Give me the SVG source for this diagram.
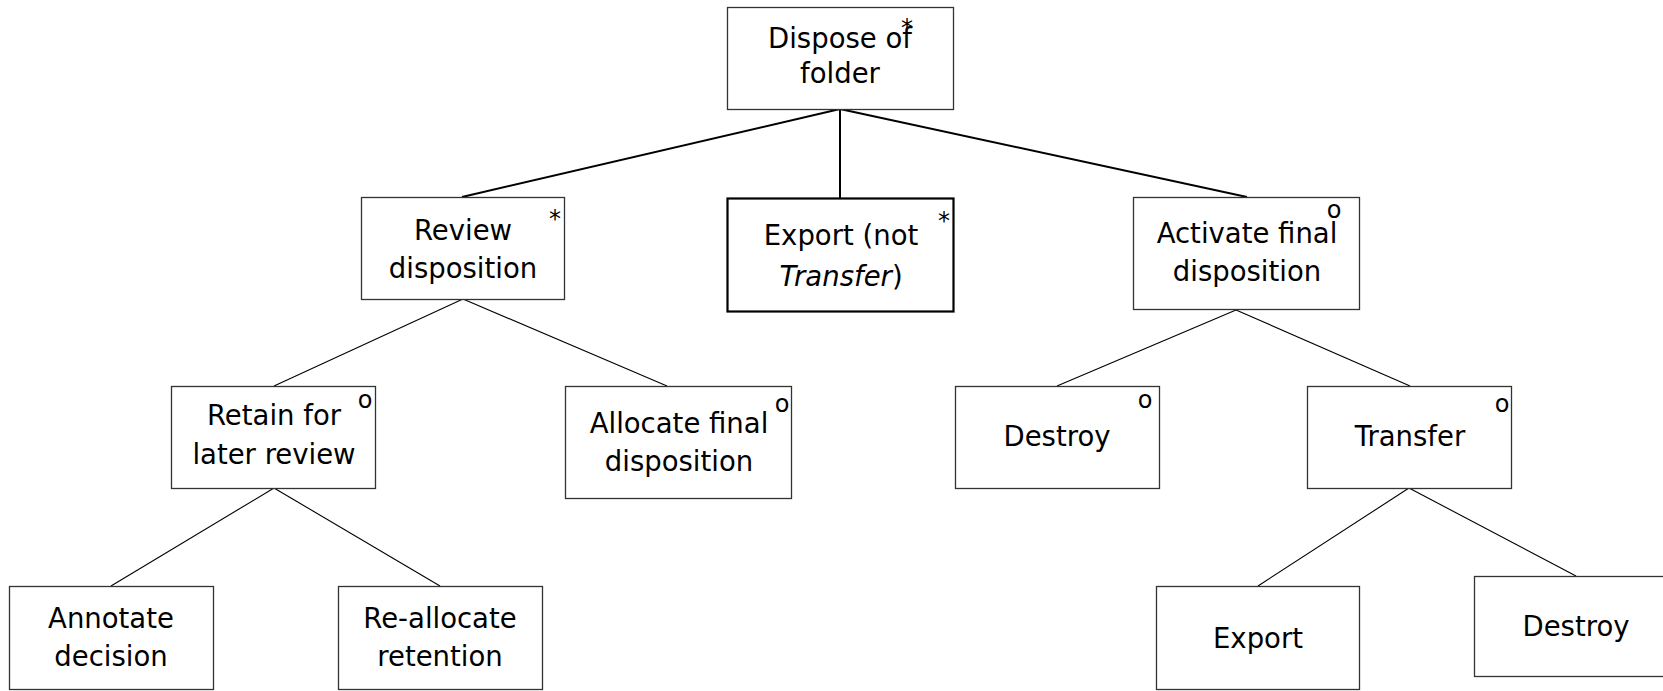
<svg xmlns="http://www.w3.org/2000/svg" width="1663" height="691" viewBox="0 0 1663 691">
<style>
.box{fill:#fff;stroke:#333;stroke-width:1.3}
.bold{fill:#fff;stroke:#000;stroke-width:2.2}
.t{font-family:"DejaVu Sans",sans-serif;font-size:27.5px;fill:#000;text-anchor:middle}
.m{font-family:"DejaVu Sans",sans-serif;font-size:24px;fill:#000;text-anchor:middle}
.c1{stroke:#000;stroke-width:2;fill:none}
.c2{stroke:#000;stroke-width:1.1;fill:none}
</style>
<rect width="1663" height="691" fill="#fff"/>
<g id="connectors">
<line class="c1" x1="840" y1="109" x2="462" y2="197"/>
<line class="c1" x1="840" y1="109" x2="840" y2="198"/>
<line class="c1" x1="840" y1="109" x2="1247" y2="197"/>
<line class="c2" x1="463" y1="299" x2="274" y2="386"/>
<line class="c2" x1="463" y1="299" x2="667" y2="386"/>
<line class="c2" x1="1236" y1="310" x2="1057" y2="386"/>
<line class="c2" x1="1236" y1="310" x2="1410" y2="386"/>
<line class="c2" x1="274" y1="488" x2="111" y2="586"/>
<line class="c2" x1="274" y1="488" x2="440" y2="586"/>
<line class="c2" x1="1409" y1="488" x2="1258" y2="586"/>
<line class="c2" x1="1409" y1="488" x2="1576" y2="576"/>
</g>
<g id="dispose">
<rect class="box" x="727.5" y="7.5" width="226" height="102"/>
<text class="t" x="840" y="48">Dispose of</text>
<text class="t" x="840" y="83">folder</text>
<text class="m" x="907" y="36">*</text>
</g>
<g id="review">
<rect class="box" x="361.5" y="197.5" width="203" height="102"/>
<text class="t" x="463" y="240">Review</text>
<text class="t" x="463" y="278">disposition</text>
<text class="m" x="555" y="227">*</text>
</g>
<g id="export-not-transfer">
<rect class="bold" x="727.5" y="198.5" width="226" height="113"/>
<text class="t" x="841" y="245">Export (not</text>
<text class="t" x="841" y="286"><tspan font-style="italic">Transfer</tspan>)</text>
<text class="m" x="944" y="229">*</text>
</g>
<g id="activate">
<rect class="box" x="1133.5" y="197.5" width="226" height="112"/>
<text class="t" x="1247" y="243">Activate final</text>
<text class="t" x="1247" y="281">disposition</text>
<text class="m" x="1334" y="218">o</text>
</g>
<g id="retain">
<rect class="box" x="171.5" y="386.5" width="204" height="102"/>
<text class="t" x="274" y="425">Retain for</text>
<text class="t" x="274" y="464">later review</text>
<text class="m" x="365" y="408">o</text>
</g>
<g id="allocate">
<rect class="box" x="565.5" y="386.5" width="226" height="112"/>
<text class="t" x="679" y="433">Allocate final</text>
<text class="t" x="679" y="471">disposition</text>
<text class="m" x="782" y="412">o</text>
</g>
<g id="destroy1">
<rect class="box" x="955.5" y="386.5" width="204" height="102"/>
<text class="t" x="1057" y="446">Destroy</text>
<text class="m" x="1145" y="408">o</text>
</g>
<g id="transfer">
<rect class="box" x="1307.5" y="386.5" width="204" height="102"/>
<text class="t" x="1410" y="446">Transfer</text>
<text class="m" x="1502" y="412">o</text>
</g>
<g id="annotate">
<rect class="box" x="9.5" y="586.5" width="204" height="103"/>
<text class="t" x="111" y="628">Annotate</text>
<text class="t" x="111" y="666">decision</text>
</g>
<g id="reallocate">
<rect class="box" x="338.5" y="586.5" width="204" height="103"/>
<text class="t" x="440" y="628">Re-allocate</text>
<text class="t" x="440" y="666">retention</text>
</g>
<g id="export">
<rect class="box" x="1156.5" y="586.5" width="203" height="103"/>
<text class="t" x="1258" y="648">Export</text>
</g>
<g id="destroy2">
<rect class="box" x="1474.5" y="576.5" width="200" height="100"/>
<text class="t" x="1576" y="636">Destroy</text>
</g>
</svg>
